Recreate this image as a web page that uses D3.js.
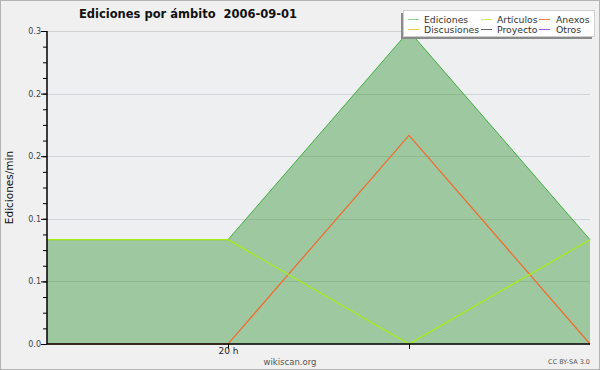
<!DOCTYPE html>
<html>
<head>
<meta charset="utf-8">
<script src="https://cdn.jsdelivr.net/npm/d3@7"></script>
<style>
  body { margin: 0; background: #f0f0f0; }
  text { font-family: "DejaVu Sans", sans-serif; }
</style>
</head>
<body>
<div class="container"></div>
<script>
// data
const hours = [19, 20, 21, 22];
const ediciones = [0.1, 0.1, 0.3, 0.1];
const articulos = [0.1, 0.1, 0, 0.1];
const anexos = [0, 0, 0.2, 0];
const yTicks = [0, 0.06, 0.12, 0.18, 0.24, 0.3];
const xTicks = [20, 21];
const legendNames = ['Ediciones', 'Discusiones', 'Artículos', 'Proyecto', 'Anexos', 'Otros'];
const legendColors = ['#8fd08f', '#f3cf3c', '#c4ef55', '#6a6a6a', '#f0804c', '#9b5ef0'];

const w = 600;
const h = 370;
const [margin_top, margin_left, margin_bottom, margin_right] = [31, 47, 26, 10];
const plotWidth = w - margin_left - margin_right;
const plotHeight = h - margin_top - margin_bottom;

const svg = d3.select('.container')
              .append('svg')
              .attr('width', w)
              .attr('height', h);

svg.append('rect')
   .attr('x', 0.5).attr('y', 0.5)
   .attr('width', w - 1).attr('height', h - 1)
   .attr('fill', '#f0f0f0')
   .attr('stroke', '#b4b4b4');

const plot = svg.append('g')
                .attr('transform', `translate(${margin_left}, ${margin_top})`);

const x = d3.scaleLinear().domain([19, 22]).range([0, plotWidth]);
const y = d3.scaleLinear().domain([0, 0.3]).range([plotHeight, 0]);

// plot background
plot.append('rect')
    .attr('width', plotWidth)
    .attr('height', plotHeight)
    .attr('fill', '#eeeff1');

// grid
plot.selectAll('.grid')
    .data(yTicks)
    .enter()
    .append('line')
    .attr('x1', 0).attr('x2', plotWidth)
    .attr('y1', d => Math.round(y(d)) + 0.5)
    .attr('y2', d => Math.round(y(d)) + 0.5)
    .attr('stroke', '#d2d3d6');

// total area
const pts = hours.map((d, i) => ({ h: d, v: ediciones[i] }));
const area = d3.area().x(d => x(d.h)).y0(plotHeight).y1(d => y(d.v));
const line = d3.line().x(d => x(d.h)).y(d => y(d.v));

plot.append('path')
    .datum(pts)
    .attr('d', area)
    .attr('fill', '#3c9a3c')
    .attr('fill-opacity', 0.45);
plot.append('path')
    .datum(pts)
    .attr('d', line)
    .attr('fill', 'none')
    .attr('stroke', '#3fae3f')
    .attr('stroke-width', 1);

const drawLine = (vals, color) => {
    plot.append('path')
        .datum(hours.map((d, i) => ({ h: d, v: vals[i] })))
        .attr('d', line)
        .attr('fill', 'none')
        .attr('stroke', color)
        .attr('stroke-width', 1.2);
};
drawLine(anexos, '#f2692e');
drawLine(articulos, '#a6ec12');

// axes
const yAxis = d3.axisLeft(y)
                .tickValues(yTicks)
                .tickSize(6)
                .tickFormat(d3.format('.1f'));
const yMinor = d3.axisLeft(y)
                 .tickValues(d3.range(0, 0.3001, 0.015))
                 .tickSize(4)
                 .tickFormat('');
const xAxis = d3.axisBottom(x)
                .tickValues(xTicks)
                .tickSize(5)
                .tickFormat(d => d === 20 ? d + ' h' : '');

const yGroup = plot.append('g').call(yAxis);
plot.append('g').call(yMinor).select('.domain').remove();
const xGroup = plot.append('g')
                   .attr('transform', `translate(0, ${plotHeight})`)
                   .call(xAxis);

[yGroup, xGroup].forEach(g => {
    g.select('.domain').attr('stroke', '#000').attr('stroke-width', 1.5);
    g.selectAll('line').attr('stroke', '#000');
    g.selectAll('text')
     .attr('font-family', '"DejaVu Sans", sans-serif')
     .attr('font-size', 8)
     .attr('fill', '#444');
});
yGroup.select('.domain').attr('d', `M0,${plotHeight}V0`);
xGroup.select('.domain').attr('d', `M0,0H${plotWidth}`);
yGroup.selectAll('text').attr('x', -6);
xGroup.selectAll('text').attr('y', 4).attr('font-size', 9).attr('fill', '#222');

// titles
svg.append('text')
   .attr('x', 188).attr('y', 18)
   .attr('text-anchor', 'middle')
   .attr('font-size', 11.5)
   .attr('font-weight', 'bold')
   .attr('fill', '#111')
   .style('white-space', 'pre')
   .text('Ediciones por ámbito  2006-09-01');

svg.append('text')
   .attr('transform', `translate(13, ${margin_top + plotHeight / 2}) rotate(-90)`)
   .attr('text-anchor', 'middle')
   .attr('font-family', '"DejaVu Sans Mono", monospace')
   .attr('font-size', 10.5)
   .attr('fill', '#111')
   .text('Ediciones/min');

svg.append('text')
   .attr('x', 290).attr('y', 365)
   .attr('text-anchor', 'middle')
   .attr('font-size', 8.5)
   .attr('fill', '#555')
   .text('wikiscan.org');

svg.append('text')
   .attr('x', 590).attr('y', 364)
   .attr('text-anchor', 'end')
   .attr('font-size', 6.5)
   .attr('fill', '#555')
   .text('CC BY-SA 3.0');

// legend
const legend = svg.append('g');
legend.append('rect')
      .attr('x', 401).attr('y', 13)
      .attr('width', 191).attr('height', 26)
      .attr('fill', '#8a8a8a');
legend.append('rect')
      .attr('x', 403.5).attr('y', 10.5)
      .attr('width', 191).attr('height', 26)
      .attr('fill', '#fff')
      .attr('stroke', '#cfcfcf');

const colX = [408, 481, 539];
const textX = [424, 497, 556];
legendNames.forEach((name, i) => {
    const col = Math.floor(i / 2);
    const row = i % 2;
    const yy = 19.5 + row * 10;
    legend.append('line')
          .attr('x1', colX[col]).attr('x2', colX[col] + 11)
          .attr('y1', yy).attr('y2', yy)
          .attr('stroke', legendColors[i]);
    legend.append('text')
          .attr('x', textX[col]).attr('y', yy + 3.5)
          .attr('font-size', 9.3)
          .attr('fill', '#333')
          .text(name);
});
</script>
</body>
</html>
